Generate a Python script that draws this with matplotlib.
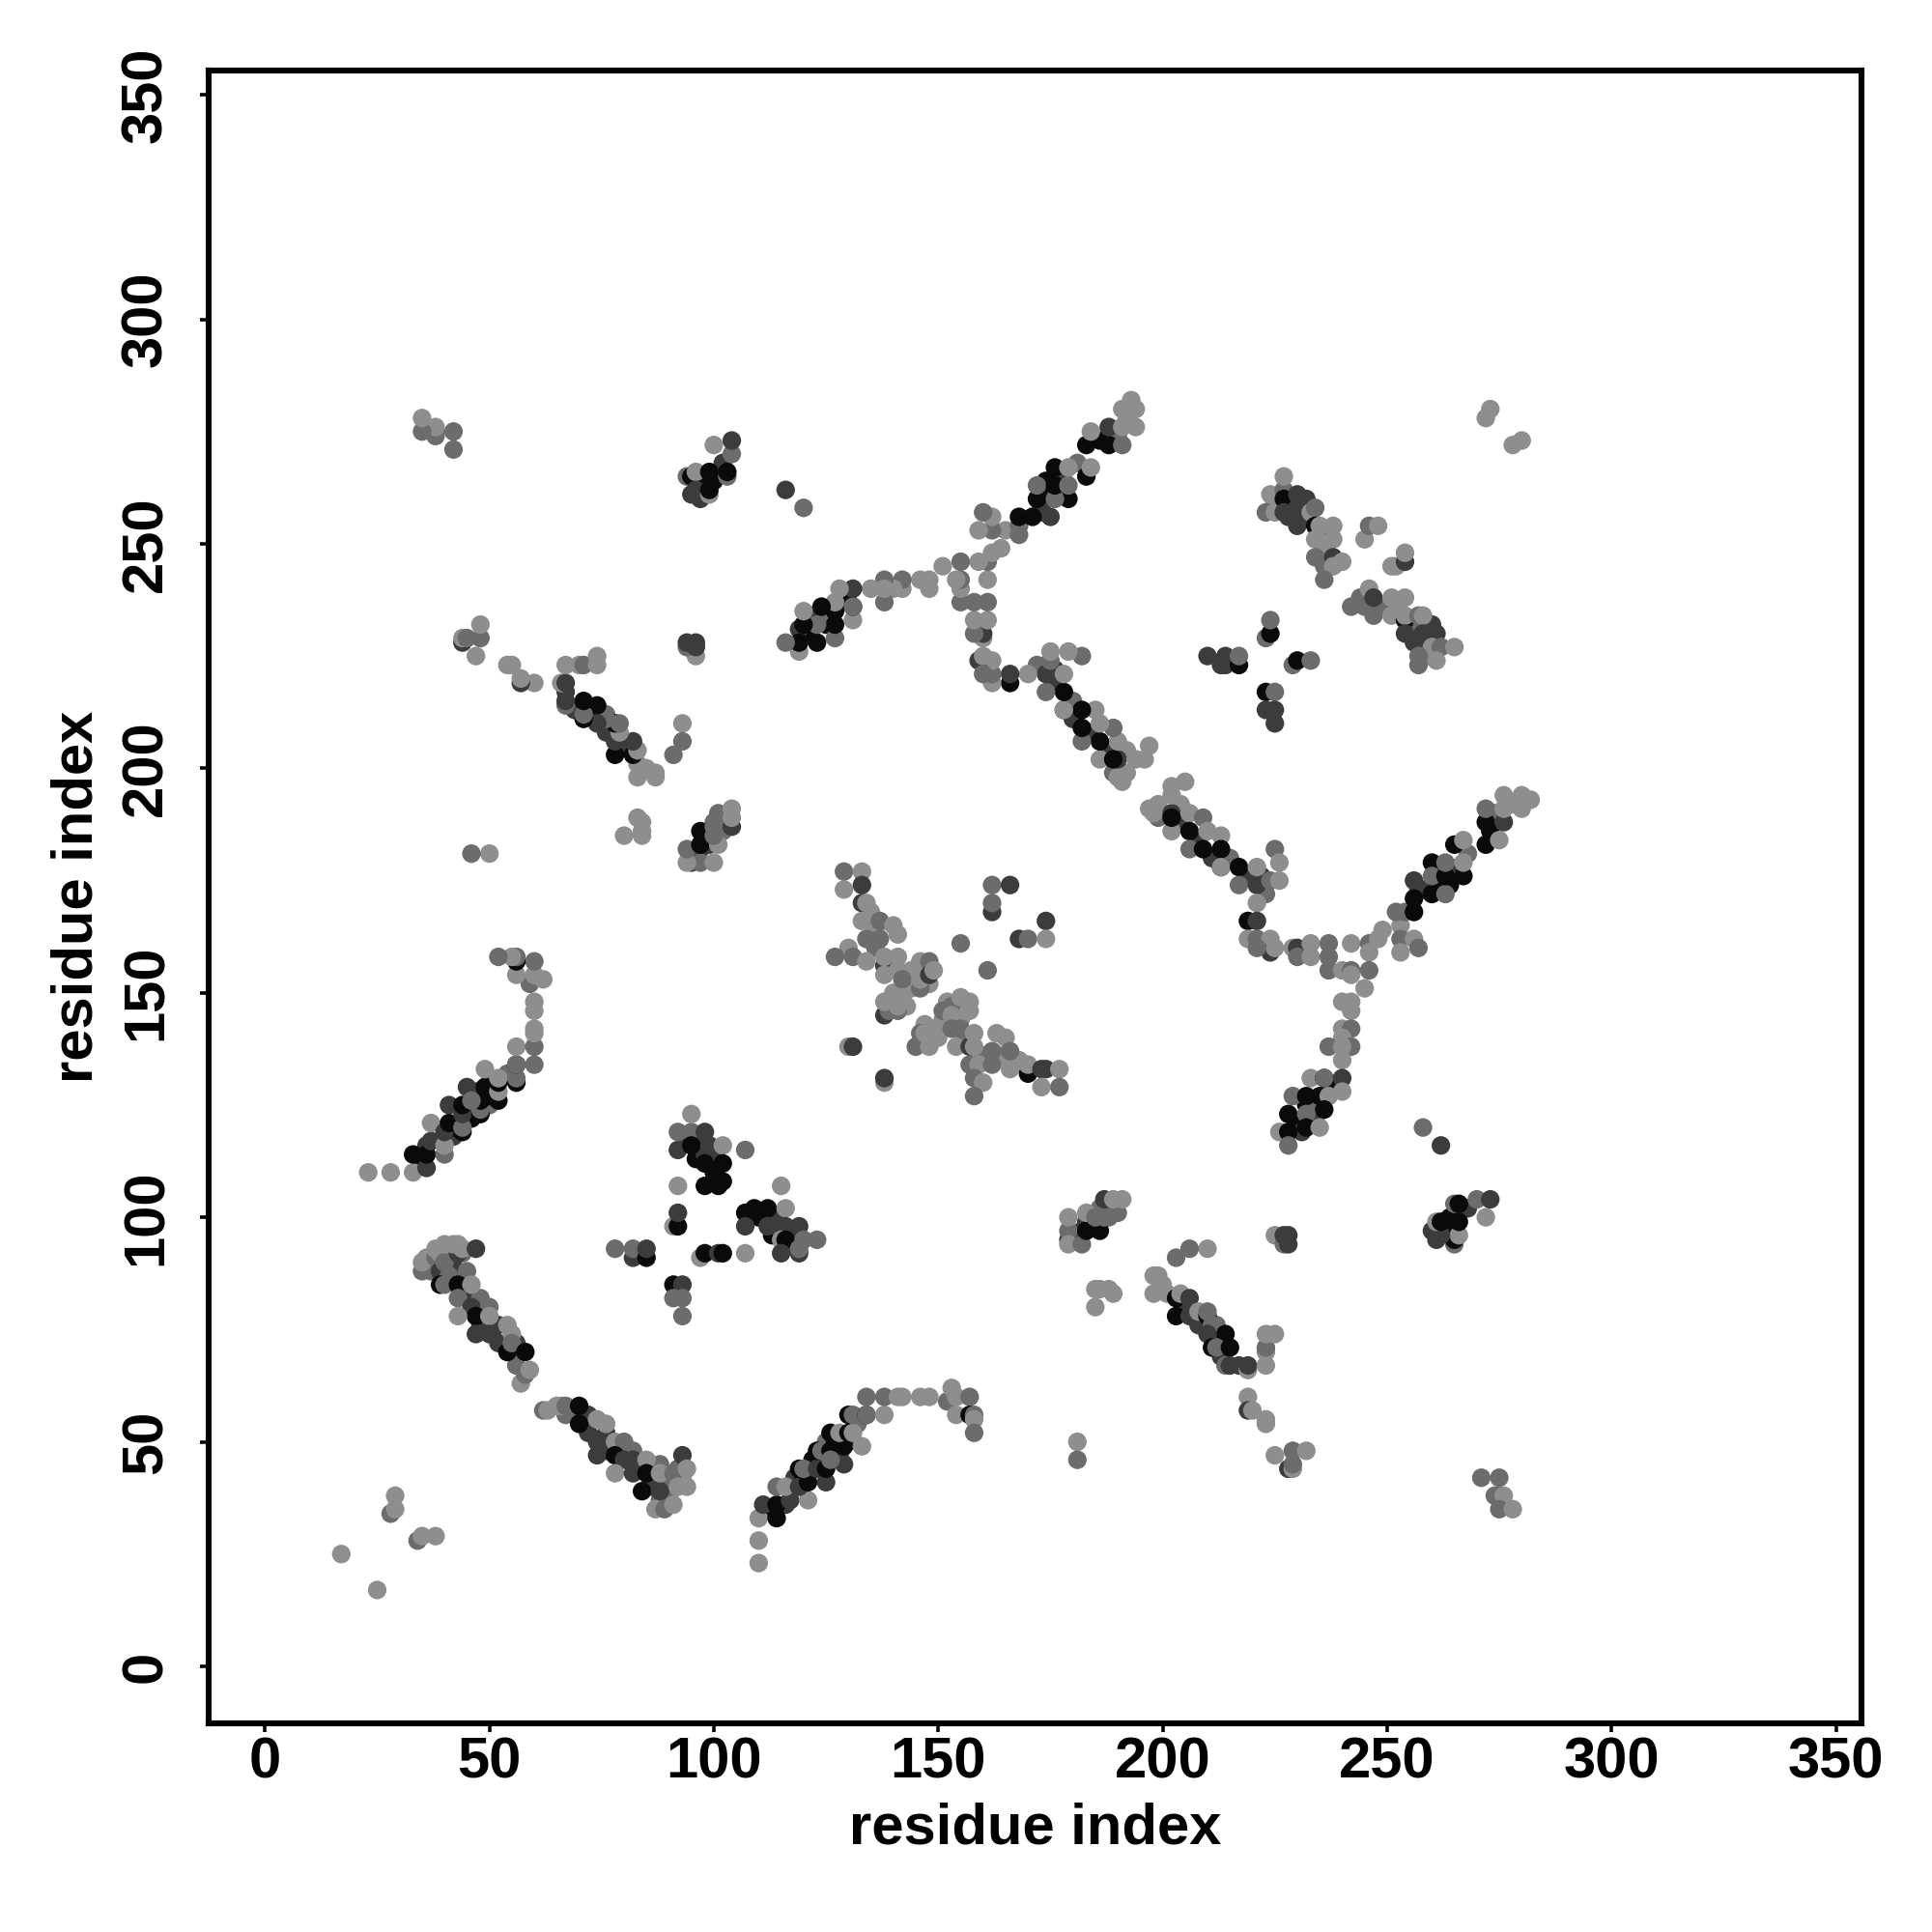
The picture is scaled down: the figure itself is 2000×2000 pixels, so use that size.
import numpy as np
import matplotlib
matplotlib.use("Agg")
import matplotlib.pyplot as plt

plt.rcParams["font.family"] = ["Liberation Sans", "DejaVu Sans"]

# contact strength: 1 weak (light) ... 4 strong (black)
# each entry is (residue i, residue j, strength)

# denser contacts inside the thick bands
band_fill = [
    (112, 35, 4), (116, 36, 3), (118, 42, 3), (120, 42, 4), (122, 46, 4), (124, 46, 4), (125, 50, 2),
    (127, 50, 4), (128, 47, 3), (130, 50, 3), (132, 54, 2), (232, 125, 4), (234, 122, 3), (230, 121, 4),
    (231, 119, 3), (234, 126, 2), (237, 130, 4), (258, 173, 3), (261, 175, 4), (262, 178, 3), (264, 174, 4),
    (266, 178, 3), (268, 181, 2), (273, 186, 4), (274, 190, 2), (278, 192, 1), (257, 173, 3),
    (204, 188, 3), (208, 184, 3), (211, 180, 3), (215, 180, 2), (219, 176, 3), (204, 192, 1), (200, 190, 1),
    (222, 176, 3), (223, 172, 2), (88, 37, 2), (91, 41, 2), (89, 42, 3), (88, 45, 2), (86, 41, 3), (84, 44, 3),
    (82, 48, 2), (76, 48, 3), (76, 52, 3), (70, 56, 3), (67, 56, 2), (56, 72, 3), (52, 72, 3), (50, 76, 3),
    (46, 82, 3), (40, 86, 3), (38, 90, 2), (41, 90, 2), (44, 92, 2), (42, 93, 1),
    (200, 85, 1), (205, 80, 3), (208, 76, 3), (212, 72, 3), (213, 69, 3), (217, 67, 3), (212, 76, 2),
    (260, 97, 3), (263, 97, 4), (264, 100, 4), (268, 102, 3), (183, 99, 3), (181, 96, 2), (186, 102, 2),
    (188, 100, 2), (182, 97, 3), (184, 98, 4), (186, 99, 3), (188, 102, 2),
    (160, 136, 2), (164, 136, 1), (168, 135, 1), (156, 140, 2), (155, 144, 1), (151, 144, 1), (150, 140, 1),
    (152, 148, 1), (151, 146, 2), (147, 143, 1), (146, 141, 2),
    (256, 232, 3), (252, 236, 2), (250, 236, 1), (260, 232, 3), (258, 228, 3), (259, 226, 1), (236, 252, 1),
    (232, 256, 2), (228, 256, 3), (228, 259, 3), (225, 259, 2), (236, 249, 2), (236, 245, 2),
    (113, 96, 4), (110, 100, 4), (114, 100, 3), (118, 94, 3), (117, 97, 3), (114, 98, 3), (117, 95, 3),
]

# blocks read from one side of the diagonal, the map is symmetric
arc_low = [
    (110, 23, 1), (110, 28, 1), (110, 33, 1), (111, 36, 3), (114, 33, 4), (114, 36, 4),
    (117, 37, 3), (121, 37, 1), (114, 40, 2), (116, 40, 1), (119, 40, 3), (121, 41, 4),
    (125, 41, 3), (119, 44, 4), (120, 44, 2), (123, 44, 3), (125, 44, 4), (129, 45, 3),
    (123, 48, 4), (124, 48, 2), (126, 48, 4), (126, 46, 2), (129, 49, 4), (133, 49, 1),
    (126, 52, 4), (128, 52, 1), (130, 52, 4), (131, 52, 1), (130, 56, 4), (131, 56, 2),
    (134, 56, 4), (134, 56, 2), (138, 56, 1), (134, 60, 2), (138, 60, 2), (141, 60, 1),
    (142, 60, 1), (146, 60, 1), (148, 60, 1), (152, 59, 2), (153, 62, 1), (154, 60, 1),
    (154, 56, 1), (157, 60, 2), (157, 56, 4), (158, 56, 2), (158, 55, 1), (158, 52, 2),
]
spots_mid = [
    (181, 50, 1), (181, 46, 2), (179, 95, 3), (179, 97, 2), (179, 100, 1), (179, 94, 1),
    (182, 94, 2), (183, 97, 4), (186, 97, 4), (183, 101, 1), (185, 100, 2), (187, 100, 2),
    (187, 104, 3), (190, 101, 2), (189, 104, 1), (191, 104, 1),
    (185, 84, 1), (186, 84, 1), (188, 84, 1), (189, 83, 1), (185, 80, 1),
]
arm_right_low = [
    (210, 93, 1), (206, 93, 2), (203, 91, 2), (198, 87, 1), (199, 87, 1), (198, 83, 1),
    (201, 83, 1), (203, 82, 4), (204, 83, 1), (206, 82, 3), (203, 78, 4), (206, 78, 3),
    (208, 79, 1), (210, 78, 4), (210, 79, 2), (211, 76, 2), (214, 74, 4), (210, 74, 3),
    (211, 71, 4), (212, 71, 2), (215, 71, 4), (214, 67, 2), (215, 67, 3), (219, 66, 1),
    (219, 67, 3), (223, 67, 1), (223, 70, 1), (223, 71, 2), (223, 74, 1), (225, 74, 1),
    (219, 60, 1), (219, 57, 3), (220, 57, 1), (223, 55, 1), (223, 54, 1),
    (228, 44, 3), (229, 44, 1), (229, 45, 2), (225, 47, 1), (229, 48, 2), (232, 48, 1),
    (225, 96, 1), (227, 94, 2), (227, 96, 3), (228, 94, 3), (228, 96, 3),
]
right_edge = [
    (258, 120, 2), (262, 116, 3),
    (265, 94, 2), (265, 95, 4), (266, 96, 1), (261, 95, 3), (262, 96, 3), (261, 99, 1), (262, 99, 4),
    (266, 99, 4), (265, 103, 2), (266, 103, 4), (270, 104, 2), (272, 100, 1), (273, 104, 3),
    (271, 42, 2), (275, 42, 2), (274, 38, 2), (275, 38, 2), (276, 38, 1), (275, 35, 2), (278, 35, 1),
    (278, 272, 1), (280, 273, 1),
]
y_junction = [
    (197, 191, 1), (199, 189, 2), (199, 192, 1), (198, 190, 1), (202, 186, 1), (202, 190, 3),
    (202, 189, 4), (202, 194, 1), (202, 196, 1), (205, 197, 1), (206, 190, 1), (209, 189, 2),
    (206, 186, 4), (206, 182, 2), (209, 182, 4), (210, 186, 1), (213, 185, 1), (213, 182, 4),
    (213, 178, 4), (213, 178, 1), (217, 178, 4), (217, 174, 2), (221, 174, 3), (221, 178, 1),
    (224, 175, 2), (226, 175, 1), (225, 182, 2), (226, 179, 1), (221, 170, 1), (219, 166, 4),
    (221, 166, 3), (219, 162, 1), (221, 162, 2), (224, 162, 1), (224, 159, 3), (225, 160, 1),
    (221, 160, 2), (229, 160, 1), (230, 160, 3), (230, 158, 2), (233, 161, 1), (233, 158, 1),
    (237, 161, 2), (237, 158, 2), (237, 155, 2), (240, 155, 1), (242, 161, 1), (242, 155, 2),
    (242, 154, 1), (246, 161, 2), (246, 159, 1), (246, 155, 2), (245, 151, 1), (248, 162, 1),
    (249, 164, 1), (253, 165, 1), (253, 162, 2), (253, 159, 1), (252, 168, 2), (254, 168, 2),
    (256, 168, 4), (256, 162, 1), (257, 160, 2), (256, 175, 3), (256, 171, 4), (260, 172, 4),
    (263, 172, 2), (260, 179, 4), (260, 176, 2), (263, 176, 4), (263, 179, 2), (267, 176, 4),
    (267, 179, 1), (265, 183, 4), (267, 184, 1), (272, 183, 4), (272, 188, 4), (275, 184, 1),
    (276, 188, 3), (272, 191, 2), (276, 191, 1), (276, 194, 1), (280, 191, 1), (280, 194, 1),
    (282, 193, 1),
    (240, 148, 1), (242, 148, 1), (242, 146, 1), (240, 142, 1), (242, 142, 2), (240, 140, 1),
    (237, 138, 2), (242, 138, 2), (240, 138, 1), (240, 135, 1), (233, 131, 1), (236, 131, 4),
    (236, 131, 2), (240, 131, 3), (240, 128, 1), (229, 127, 2), (232, 127, 4), (235, 127, 4),
    (237, 127, 1), (236, 124, 4), (228, 123, 4), (232, 123, 2), (226, 119, 1), (228, 119, 4),
    (232, 120, 4), (235, 120, 1), (228, 116, 2),
]

# blocks that straddle the diagonal, both halves were read directly
corner_low = [
    (17, 25, 1), (25, 17, 1), (29, 38, 1), (28, 34, 2), (29, 35, 1), (34, 28, 2), (35, 29, 1), (38, 29, 1),
]
arm_left_low = [
    (35, 88, 2), (35, 90, 1), (36, 91, 1), (38, 91, 2), (39, 88, 3), (38, 93, 1), (39, 92, 1), (41, 87, 2),
    (40, 90, 2), (40, 94, 1), (43, 92, 3), (42, 94, 1), (43, 94, 1), (44, 93, 1), (47, 93, 3),
    (39, 85, 4), (40, 85, 2), (43, 85, 4), (46, 85, 1), (43, 82, 2), (46, 80, 3), (50, 80, 2),
    (47, 78, 4), (43, 78, 1), (50, 78, 1), (47, 74, 3), (50, 74, 3), (54, 76, 1), (55, 74, 1),
    (54, 70, 4), (55, 72, 2), (58, 70, 4), (57, 63, 1), (58, 65, 2), (59, 66, 1),
    (62, 57, 2), (63, 57, 1), (65, 58, 1), (66, 58, 1), (67, 58, 2), (70, 58, 4), (70, 54, 4),
    (74, 55, 1), (76, 54, 1), (74, 50, 3), (78, 50, 1), (80, 50, 2), (74, 47, 3), (78, 47, 4),
    (80, 46, 3), (78, 43, 1), (82, 43, 3), (85, 46, 1), (85, 43, 4), (84, 39, 4), (88, 39, 3),
    (88, 43, 1), (91, 43, 2), (93, 47, 3), (94, 44, 1), (92, 40, 1), (94, 40, 1), (87, 35, 1),
    (89, 35, 2), (91, 36, 1),
]
cross_93 = [
    (78, 93, 2), (82, 91, 3), (82, 93, 2), (85, 91, 4), (85, 93, 3), (91, 98, 1), (92, 98, 4),
    (92, 101, 3), (92, 107, 1), (92, 115, 3), (92, 119, 2), (95, 119, 2), (95, 123, 1),
    (95, 116, 4), (98, 119, 3), (99, 116, 3), (102, 116, 1), (107, 115, 2), (98, 112, 4),
    (102, 112, 4), (98, 107, 4), (101, 107, 4), (102, 108, 4), (97, 91, 1), (98, 92, 4),
    (101, 92, 3), (107, 92, 1), (91, 85, 4), (93, 85, 3), (91, 82, 2), (93, 82, 2), (93, 78, 2),
    (115, 107, 1), (107, 101, 4), (109, 102, 4), (112, 102, 4), (116, 102, 1), (107, 98, 3),
    (112, 98, 3), (116, 98, 3), (119, 98, 3), (115, 95, 1), (116, 95, 4), (120, 95, 2),
    (123, 95, 2), (115, 92, 3), (119, 92, 3), (119, 93, 2), (102, 92, 4),
]
star_center = [
    (129, 177, 2), (133, 177, 1), (129, 173, 1), (133, 174, 3), (133, 170, 3), (134, 170, 1),
    (133, 166, 1), (135, 166, 1), (137, 166, 2), (140, 165, 1), (141, 163, 1), (134, 162, 2),
    (137, 162, 2), (130, 160, 1), (127, 158, 2), (131, 158, 2), (134, 157, 1), (138, 156, 3),
    (138, 158, 1), (141, 158, 1), (138, 154, 1), (141, 155, 1), (142, 153, 2), (146, 153, 1),
    (146, 157, 1), (148, 157, 2), (148, 154, 3), (149, 155, 1), (155, 161, 2), (161, 155, 2),
    (162, 174, 2), (166, 174, 3), (162, 168, 3), (162, 170, 2), (174, 166, 3), (168, 162, 3),
    (170, 162, 2), (174, 162, 1), (138, 145, 3), (139, 146, 2), (138, 148, 1), (141, 147, 1),
    (142, 149, 1), (130, 138, 1), (131, 138, 3), (138, 130, 1), (138, 131, 3), (145, 138, 2),
    (146, 139, 2), (147, 141, 1), (148, 138, 1), (149, 142, 1), (153, 147, 2), (153, 145, 1),
    (155, 149, 1), (157, 148, 1), (157, 146, 1), (153, 142, 2), (155, 142, 2), (154, 138, 1),
    (157, 138, 3), (158, 141, 1), (158, 138, 1), (163, 141, 1), (165, 140, 1), (162, 137, 2),
    (157, 134, 2), (159, 134, 1), (162, 134, 2), (166, 133, 1), (166, 137, 2), (170, 132, 4),
    (170, 134, 1), (173, 133, 3), (174, 133, 3), (177, 133, 1), (173, 129, 1), (177, 129, 2),
    (158, 131, 2), (160, 130, 1), (158, 127, 2),
]
star_upper = [
    (223, 257, 2), (225, 257, 1), (224, 261, 1), (227, 262, 2), (227, 260, 4), (227, 265, 1),
    (230, 261, 3), (227, 257, 3), (230, 258, 3), (233, 257, 1), (234, 258, 2), (230, 254, 3),
    (234, 254, 4), (235, 254, 1), (238, 254, 1), (238, 251, 1), (234, 251, 1), (234, 247, 2),
    (238, 247, 3), (238, 245, 1), (240, 246, 1), (236, 242, 2),
    (245, 251, 1), (246, 254, 2), (248, 254, 1), (251, 245, 1), (252, 245, 1), (254, 246, 3), (254, 248, 1),
    (242, 236, 2), (244, 238, 2), (246, 240, 1), (247, 234, 2), (247, 238, 3), (251, 238, 1),
    (254, 238, 1), (251, 234, 1), (254, 233, 4), (254, 234, 1), (254, 230, 3), (257, 234, 2),
    (258, 234, 1), (258, 230, 3), (261, 230, 3), (258, 227, 3), (260, 227, 1), (262, 227, 2),
    (265, 227, 1), (261, 224, 1), (257, 225, 2), (257, 223, 2),
]
cross_225 = [
    (223, 229, 2), (224, 230, 4), (224, 233, 2), (210, 225, 3), (213, 223, 3), (214, 223, 3),
    (214, 225, 3), (217, 223, 4), (217, 225, 2), (229, 223, 2), (230, 224, 4), (233, 224, 2),
    (223, 217, 4), (225, 217, 2), (223, 213, 3), (225, 213, 3), (225, 210, 3),
]

tick_vals = [0, 50, 100, 150, 200, 250, 300, 350]
gray_levels = {1: "#8e8e8e", 2: "#6c6c6c", 3: "#3c3c3c", 4: "#0a0a0a"}

one_side = np.array(band_fill + arc_low + spots_mid + arm_right_low + right_edge + y_junction)
both_sides = np.array(corner_low + arm_left_low + cross_93 + star_center + star_upper + cross_225)

x = np.concatenate([one_side[:, 0], one_side[:, 1], both_sides[:, 0]])
y = np.concatenate([one_side[:, 1], one_side[:, 0], both_sides[:, 1]])
strength = np.concatenate([one_side[:, 2], one_side[:, 2], both_sides[:, 2]])
colors = [gray_levels[s] for s in strength]

fig = plt.figure(figsize=(10, 10), dpi=200)
ax = fig.add_axes([0.108, 0.108, 0.8555, 0.8555])
ax.scatter(x, y, c=colors, s=48, linewidths=0)

ax.set_xlim(-12.55, 355.7)
ax.set_ylim(-12.7, 355.4)
ax.set_xticks(tick_vals)
ax.set_yticks(tick_vals)
for side in ax.spines.values():
    side.set_linewidth(2.2)

ax.tick_params(axis="x", length=3.2, width=1.3, pad=1.5, labelsize=21.5)
ax.tick_params(axis="y", length=3.2, width=1.3, pad=10, labelsize=21.5)
for lab in ax.get_xticklabels():
    lab.set_fontweight("bold")
for lab in ax.get_yticklabels():
    lab.set_fontweight("bold")
    lab.set_rotation(90)
    lab.set_va("center")

ax.set_xlabel("residue index", fontsize=21.5, fontweight="bold", labelpad=5)
ax.set_ylabel("residue index", fontsize=21.5, fontweight="bold", labelpad=6)

fig.savefig("out.png", dpi=200)
